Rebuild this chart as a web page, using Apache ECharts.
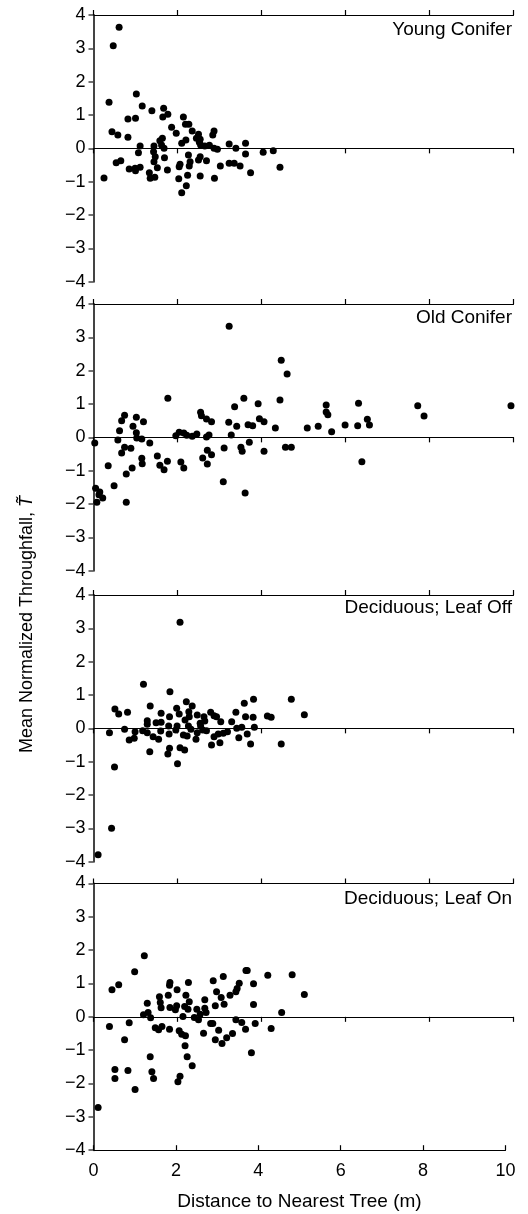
<!DOCTYPE html>
<html>
<head>
<meta charset="utf-8">
<script src="https://cdn.jsdelivr.net/npm/echarts@6/dist/echarts.min.js"></script>
<style>
    html, body { margin: 0; padding: 0; background: #fff; }
    #chart { width: 528px; height: 1214px; }
</style>
</head>
<body>
<div id="chart"></div>
<script>
// panel names, top to bottom
var panelNames = ["Young Conifer", "Old Conifer", "Deciduous; Leaf Off", "Deciduous; Leaf On"];

// [distance (m), mean normalized throughfall]
var youngConifer = [
    [0.61,3.63],[0.47,3.08],[0.37,1.38],[1.02,1.63],[1.16,1.27],[1.39,1.13],[1.67,1.20],[1.65,0.94],
    [1.77,1.02],[0.82,0.88],[1.00,0.90],[2.14,0.94],[2.19,0.72],[2.27,0.72],[1.86,0.63],[1.97,0.45],
    [2.35,0.52],[0.44,0.50],[0.58,0.40],[0.82,0.33],[2.50,0.42],[2.54,0.27],[2.87,0.52],[2.84,0.40],
    [2.20,0.25],[2.10,0.15],[1.58,0.23],[1.62,0.10],[1.44,0.07],[1.11,0.07],[1.68,0.00],[1.43,-0.10],
    [1.07,-0.13],[2.55,0.10],[2.65,0.07],[2.76,0.09],[2.87,0.00],[2.95,-0.03],[3.23,0.13],[3.39,0.00],
    [3.62,0.15],[3.62,-0.17],[4.04,-0.12],[4.28,-0.07],[4.44,-0.57],[3.74,-0.73],[3.49,-0.53],[3.23,-0.45],
    [3.35,-0.45],[3.02,-0.53],[2.88,-0.90],[2.54,-0.83],[2.69,-0.37],[2.54,-0.25],[2.50,-0.35],[2.28,-0.53],
    [2.30,-0.40],[2.26,-0.20],[2.06,-0.48],[2.04,-0.55],[2.24,-0.81],[2.21,-1.12],[2.10,-1.33],[2.03,-0.91],
    [1.76,-0.65],[1.69,-0.28],[1.52,-0.58],[1.47,-0.25],[1.44,-0.40],[1.33,-0.73],[1.35,-0.90],[1.46,-0.87],
    [1.11,-0.57],[0.99,-0.60],[1.00,-0.67],[0.85,-0.62],[0.54,-0.43],[0.65,-0.37],[0.25,-0.89],[2.45,0.30],
    [2.52,0.18],[1.64,0.30]
];
var oldConifer = [
    [3.23,3.33],[4.47,2.31],[4.61,1.90],[1.77,1.17],[3.58,1.17],[4.44,1.12],[3.92,1.01],[3.36,0.92],
    [5.54,0.97],[5.54,0.76],[5.58,0.68],[3.95,0.56],[4.06,0.47],[4.33,0.28],[5.09,0.28],[5.35,0.33],
    [3.68,0.38],[3.79,0.35],[3.41,0.33],[3.22,0.45],[3.28,0.07],[3.11,-0.32],[3.51,-0.30],[3.54,-0.42],
    [3.71,-0.15],[4.06,-0.42],[4.57,-0.30],[4.71,-0.30],[3.09,-1.33],[3.61,-1.67],[2.55,0.75],[2.57,0.65],
    [2.69,0.55],[2.81,0.47],[2.69,0.01],[2.75,0.07],[2.71,-0.39],[2.81,-0.52],[2.60,-0.62],[2.71,-0.80],
    [2.46,0.10],[2.35,0.03],[2.22,0.06],[2.15,0.13],[2.04,0.15],[1.96,0.05],[2.08,-0.74],[2.15,-0.92],
    [1.76,-0.72],[1.68,-0.97],[1.58,-0.84],[1.52,-0.56],[1.34,-0.17],[1.19,0.47],[1.02,0.60],[0.94,0.33],
    [1.02,0.14],[1.03,-0.02],[1.15,-0.05],[0.74,0.66],[0.67,0.50],[0.62,0.20],[0.58,-0.08],[0.74,-0.30],
    [0.89,-0.33],[0.67,-0.47],[1.15,-0.63],[1.16,-0.79],[0.92,-0.92],[0.78,-1.10],[0.35,-0.85],[0.49,-1.45],
    [0.78,-1.95],[0.03,-0.17],[0.05,-1.53],[0.15,-1.64],[0.22,-1.82],[0.08,-1.95],[0.13,-1.72],[5.67,0.17],
    [5.99,0.37],[6.29,0.35],[6.31,1.02],[6.39,-0.73],[6.52,0.54],[6.57,0.37],[7.72,0.95],[7.87,0.64],
    [9.94,0.95]
];
var leafOff = [
    [1.82,1.10],[3.81,0.87],[4.71,0.87],[5.02,0.41],[3.59,0.75],[2.21,0.80],[1.35,0.67],[2.35,0.67],
    [0.51,0.58],[0.60,0.43],[0.81,0.48],[1.98,0.60],[2.04,0.43],[2.27,0.50],[2.28,0.35],[2.47,0.40],
    [2.63,0.35],[2.79,0.48],[2.87,0.38],[2.93,0.35],[3.39,0.48],[3.62,0.35],[3.80,0.33],[4.14,0.37],
    [4.23,0.33],[1.61,0.45],[1.81,0.35],[1.28,0.23],[1.28,0.12],[1.49,0.17],[1.61,0.18],[1.79,0.07],
    [1.99,0.07],[2.18,0.25],[2.26,0.07],[2.55,0.07],[2.65,0.22],[2.60,-0.05],[3.03,0.20],[3.29,0.20],
    [3.41,0.00],[3.53,0.03],[3.83,0.03],[0.38,-0.13],[0.74,-0.03],[0.99,-0.10],[1.17,-0.07],[0.85,-0.35],
    [0.97,-0.30],[1.28,-0.13],[1.42,-0.25],[1.55,-0.33],[1.60,-0.08],[1.80,-0.17],[1.96,-0.05],[2.14,-0.20],
    [2.23,-0.23],[2.44,-0.33],[2.47,-0.13],[2.69,-0.07],[2.87,-0.25],[2.97,-0.17],[3.09,-0.15],[3.19,-0.10],
    [2.81,-0.50],[3.01,-0.43],[3.46,-0.28],[3.66,-0.17],[3.74,-0.47],[4.47,-0.47],[1.34,-0.70],[1.81,-0.60],
    [1.77,-0.77],[2.06,-0.58],[2.17,-0.65],[2.00,-1.06],[0.50,-1.16],[0.43,-3.00],[0.11,-3.79],[2.54,0.15],
    [2.32,-0.03],[2.06,3.18],[1.19,1.32]
];
var leafOn = [
    [1.21,1.83],[0.98,1.35],[0.44,0.81],[0.60,0.96],[1.82,1.03],[1.81,0.95],[1.99,0.81],[2.26,1.03],
    [2.85,1.08],[3.09,1.21],[3.63,1.39],[3.66,1.39],[4.15,1.25],[4.73,1.26],[5.02,0.67],[3.81,0.99],
    [3.47,1.01],[3.42,0.85],[3.39,0.75],[3.25,0.65],[3.81,0.37],[4.48,0.13],[2.93,0.75],[3.04,0.58],
    [3.11,0.38],[2.90,0.33],[2.65,0.51],[2.65,0.26],[2.68,0.13],[2.46,0.23],[2.54,0.08],[2.40,-0.02],
    [2.50,-0.09],[2.13,0.01],[2.20,0.65],[2.28,0.45],[2.25,0.23],[2.17,0.31],[1.98,0.33],[1.95,0.21],
    [1.82,0.28],[1.78,0.65],[1.57,0.60],[1.59,0.43],[1.61,0.27],[1.28,0.41],[1.30,0.13],[1.19,0.06],
    [1.36,-0.03],[0.38,-0.29],[0.85,-0.18],[0.74,-0.69],[1.47,-0.33],[1.55,-0.39],[1.63,-0.29],[1.81,-0.37],
    [2.04,-0.42],[2.10,-0.52],[2.19,-0.57],[2.18,-0.87],[2.23,-1.20],[2.35,-1.47],[1.35,-1.20],[1.39,-1.65],
    [1.43,-1.85],[0.51,-1.58],[0.51,-1.85],[0.82,-1.61],[0.99,-2.18],[2.06,-1.78],[2.01,-1.95],[2.62,-0.49],
    [2.79,-0.20],[2.84,-0.20],[2.98,-0.40],[2.90,-0.69],[3.06,-0.80],[3.17,-0.63],[3.31,-0.50],[3.39,-0.09],
    [3.53,-0.17],[3.62,-0.37],[3.85,-0.20],[4.23,-0.35],[3.76,-1.08],[0.11,-2.72]
];
var panelData = [youngConifer, oldConifer, leafOff, leafOn];

var panelTops = [15, 304, 595, 883.5];
var panelH = 266.7;
var titleY = [31, 319, 609, 900];
var font = "'Liberation Sans', Arial, sans-serif";

function minusFmt(v) {
    return v < 0 ? "\u2212" + Math.abs(v) : String(v);
}

var grids = [], xAxes = [], yAxes = [], series = [], graphics = [];

for (var i = 0; i < 4; i++) {
    grids.push({ left: 93.5, top: panelTops[i], width: 420, height: panelH });
    // y axis on the left edge
    yAxes.push({
        gridIndex: i, type: "value", min: -4, max: 4, interval: 1,
        axisLine: { show: true, lineStyle: { color: "#444", width: 2 } },
        axisTick: { show: true, inside: false, length: 5, lineStyle: { color: "#444", width: 1.5 } },
        axisLabel: { color: "#000", fontSize: 18, fontFamily: font, margin: 8, formatter: minusFmt },
        splitLine: { show: false }
    });
    // zero line, ticks pointing down
    xAxes.push({
        gridIndex: i, type: "value", min: 0, max: 10, interval: 2, position: "bottom",
        axisLine: { show: true, onZero: true, lineStyle: { color: "#000", width: 1.2 } },
        axisTick: { show: true, inside: false, length: 5, lineStyle: { color: "#000", width: 1.2 } },
        axisLabel: { show: false }, splitLine: { show: false }
    });
    // zero line, ticks pointing up
    xAxes.push({
        gridIndex: i, type: "value", min: 0, max: 10, interval: 2, position: "top",
        axisLine: { show: true, onZero: true, lineStyle: { color: "#000", width: 1.2 } },
        axisTick: { show: true, inside: false, length: 5, lineStyle: { color: "#000", width: 1.2 } },
        axisLabel: { show: false }, splitLine: { show: false }
    });
    series.push({
        type: "scatter", xAxisIndex: 2 * i, yAxisIndex: i,
        symbol: "circle", symbolSize: 7,
        itemStyle: { color: "#000", opacity: 1 },
        data: panelData[i]
    });
    graphics.push({
        type: "text", right: 16, top: titleY[i] - 11,
        style: { text: panelNames[i], fill: "#000", fontSize: 19, fontFamily: font }
    });
}

// bottom labelled axis
grids.push({ left: 93.5, top: panelTops[3], width: 412, height: panelH });
yAxes.push({ gridIndex: 4, type: "value", min: -4, max: 4, show: false });
xAxes.push({
    gridIndex: 4, type: "value", min: 0, max: 10, interval: 2, position: "bottom",
    name: "Distance to Nearest Tree (m)", nameLocation: "middle", nameGap: 42,
    nameTextStyle: { color: "#000", fontSize: 19, fontFamily: font },
    axisLine: { show: true, onZero: false, lineStyle: { color: "#000", width: 1.2 } },
    axisTick: { show: true, inside: true, length: 5, lineStyle: { color: "#000", width: 1.2 } },
    axisLabel: { color: "#000", fontSize: 18, fontFamily: font, margin: 12 },
    splitLine: { show: false }
});

// rotated y axis title, placed by its bounding box
graphics.push({
    type: "text", left: 18, top: 496, rotation: Math.PI / 2,
    style: {
        text: "{a|Mean Normalized Throughfall, }{b|T\u0303}",
        rich: {
            a: { fontSize: 18, fontFamily: font, fill: "#000" },
            b: { fontSize: 18, fontFamily: font, fill: "#000", fontStyle: "italic" }
        }
    }
});

var myChart = echarts.init(document.getElementById("chart"), null, { renderer: "canvas" });
var option = {
    backgroundColor: "#fff",
    animation: false,
    grid: grids,
    xAxis: xAxes,
    yAxis: yAxes,
    series: series,
    graphic: graphics
};
myChart.setOption(option);
</script>
</body>
</html>
